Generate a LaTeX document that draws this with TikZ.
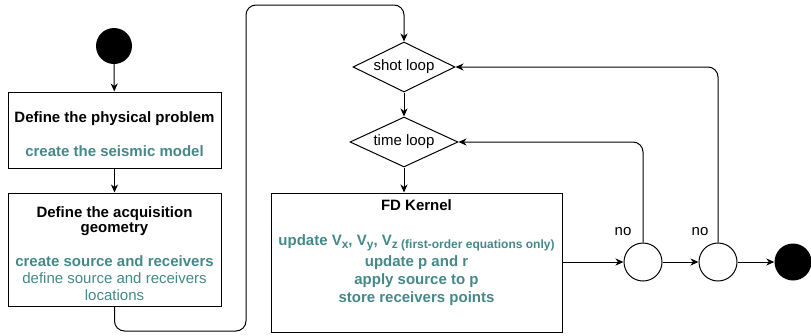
\documentclass[tikz,border=0pt]{standalone}
\usepackage{fontspec}
\setmainfont{Liberation Sans}
\usetikzlibrary{shapes.geometric,arrows.meta}
\definecolor{seisteal}{RGB}{69,136,136}
\newcommand{\hl}[1]{\textcolor{seisteal}{\textbf{#1}}}
\newcommand{\vsub}[1]{\raisebox{-3.5pt}[0pt][0pt]{\fontsize{12}{13}\selectfont #1}}
\tikzset{
  stepbox/.style={draw, line width=1pt, rectangle, inner sep=0pt},
  boxtext/.style={align=center, font=\fontsize{15}{17}\selectfont},
  loopdiamond/.style={draw, line width=1pt, diamond, aspect=2, inner sep=0pt,
    minimum height=50pt, font=\fontsize{15}{18}\selectfont},
  checkcircle/.style={draw, line width=1pt, circle, minimum size=38pt, inner sep=0pt},
  blackdot/.style={fill=black, circle, minimum size=36pt, inner sep=0pt},
  flow/.style={line width=1pt, -{Stealth[length=8pt,width=7pt,inset=2.5pt]}, rounded corners=10pt},
}
\begin{document}
\begin{tikzpicture}[x=1pt,y=-1pt]
        \useasboundingbox (0,0) rectangle (811,335);
        % left column
        \node[blackdot] (start) at (114,46) {};
        \node[stepbox, minimum width=213pt, minimum height=76pt,
          label={[boxtext, yshift=-4pt]center:{\textbf{Define the physical problem}\\[17pt]\hl{create the seismic model}}}] (phys) at (114.5,130) {};
        \node[stepbox, minimum width=213pt, minimum height=113pt,
          label={[boxtext, yshift=-4pt]center:{\textbf{Define the acquisition}\\[-2pt]\textbf{geometry}\\[17pt]\hl{create source and receivers}\\\textcolor{seisteal}{define source and receivers}\\\textcolor{seisteal}{locations}}}] (geom) at (114.5,249.5) {};
        % loops and kernel
        \node[loopdiamond, minimum width=102pt] (shot) at (404,67) {shot loop};
        \node[loopdiamond, minimum width=108pt] (time) at (404,142) {time loop};
        \node[stepbox, minimum width=291pt, minimum height=139pt,
          label={[boxtext, font=\fontsize{15}{18}\selectfont, yshift=10pt]center:{\textbf{FD Kernel}\\[17pt]\hl{update V\vsub{x}, V\vsub{y}, V\vsub{z (first-order equations only)}}\\[3pt]\hl{update p and r}\\\hl{apply source to p}\\\hl{store receivers points}}}] (kernel) at (416.5,262.5) {};
        % checks and end
        \node[checkcircle] (c1) at (643,262) {};
        \node[checkcircle] (c2) at (718,262) {};
        \node[blackdot, minimum size=37pt] (stop) at (793,262) {};
        \node[font=\fontsize{15}{18}\selectfont] (no1) at (623,232) {no};
        \node[font=\fontsize{15}{18}\selectfont] (no2) at (700,232) {no};

        \coordinate (lowturn) at (246,331);
        \coordinate (highturn) at (246,5);
        \draw[flow] (start) -- (phys);
        \draw[flow] (phys) -- (geom);
        \draw[flow] (geom.south) -- (geom.south |- lowturn) -- (lowturn) -- (highturn) -- (shot.north |- highturn) -- (shot.north);
        \draw[flow] (shot) -- (time);
        \draw[flow] (time) -- (time |- kernel.north);
        \draw[flow] (kernel.east |- c1) -- (c1);
        \draw[flow] (c1) -- (c2);
        \draw[flow] (c2) -- (stop);
        \draw[flow] (c1.north) |- (time.east);
        \draw[flow] (c2.north) |- (shot.east);
\end{tikzpicture}
\end{document}
